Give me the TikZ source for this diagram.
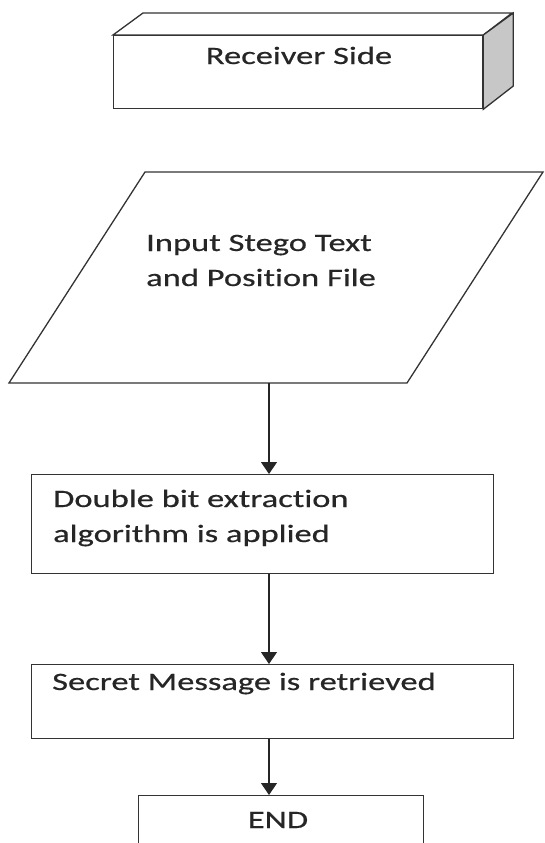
\documentclass[tikz,border=0pt]{standalone}
\usepackage{fontspec}
\setmainfont{Carlito}[FakeStretch=1.38, FakeBold=0.5, Ligatures=NoCommon]
\usetikzlibrary{arrows.meta}

\tikzset{
  line/.style={draw=black!80, line width=1.3pt},
  box/.style={line, rectangle, inner sep=0pt, fill=white},
  txt/.style={text=black!85, inner sep=0pt, align=left, font=\fontsize{25}{35}\selectfont},
  flow/.style={draw=black!85, line width=1.3pt, -{Triangle[width=16pt,length=12pt]}},
}

\begin{document}
\begin{tikzpicture}[x=1pt, y=-1pt]
  \path[use as bounding box, clip] (0,0) rectangle (545,843);

  % Receiver side block (3d)
  \node[box, minimum width=369pt, minimum height=73pt, anchor=north west] (recv) at (113,35) {};
  \draw[line, fill=white] (recv.north west) -- ++(30,-22) -- ++(369,0) -- (recv.north east) -- cycle;
  \draw[line, fill=black!22] (recv.north east) -- ++(30,-22) -- ++(0,73) -- (recv.south east) -- cycle;
  \node[txt, anchor=base] (recvtxt) at (299,64) {Receiver Side};

  % Input (parallelogram)
  \draw[line] (9,383) -- (145,172) -- (543,172) -- (407,383) -- cycle;
  \node[txt, anchor=base west] (inptxt) at (146,286) {Input Stego Text\\and Position File};
  \coordinate (inp) at (269,383);

  % Process boxes
  \node[box, minimum width=462pt, minimum height=99pt, anchor=north west] (extract) at (31,474) {};
  \node[txt, anchor=base west] (extracttxt) at (53,542) {Double bit extraction\\algorithm is applied};

  \node[box, minimum width=482pt, minimum height=74pt, anchor=north west] (secret) at (31,664) {};
  \node[txt, anchor=base west] (secrettxt) at (52,690) {Secret Message is retrieved};

  \node[box, minimum width=285pt, minimum height=80pt, anchor=north west] (stop) at (138,795) {};
  \node[txt, anchor=base] (stoptxt) at (278,828) {END};

  % Arrows
  \draw[flow] (inp) -- (extract.north -| inp);
  \draw[flow] (extract.south -| inp) -- (secret.north -| inp);
  \draw[flow] (secret.south -| inp) -- (stop.north -| inp);
\end{tikzpicture}
\end{document}
